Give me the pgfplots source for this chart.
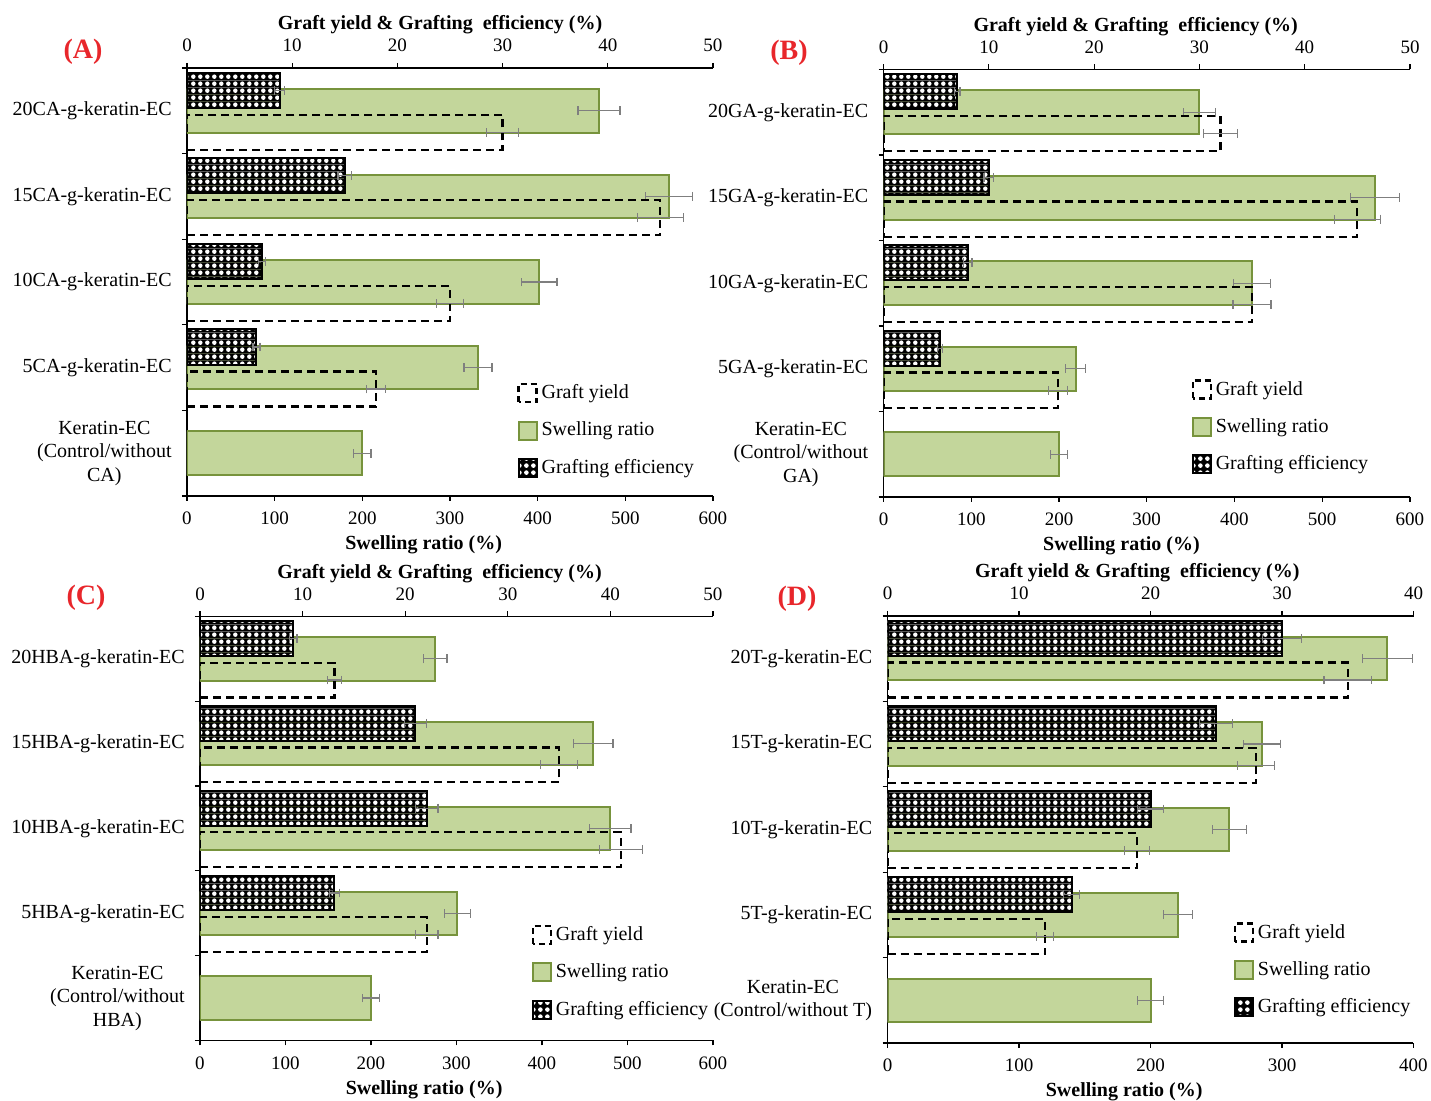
\documentclass[border=0pt]{standalone}
\usepackage{fontspec}
\setmainfont{Liberation Serif}
\usepackage{pgfplots}
\pgfplotsset{compat=1.18}
\usepackage{pgfplotstable}
\usetikzlibrary{patterns}

\definecolor{srfill}{HTML}{C3D69B}
\definecolor{srdraw}{HTML}{77933C}
\definecolor{errc}{HTML}{7F7F7F}
\definecolor{panelred}{HTML}{E8262B}

\pgfdeclarepatterninherentlycolored{gepat}{\pgfpointorigin}{\pgfpoint{3.4pt}{3.4pt}}{\pgfpoint{3.4pt}{3.4pt}}{%
  \pgfsetfillcolor{black}\pgfpathrectangle{\pgfpointorigin}{\pgfpoint{3.4pt}{3.4pt}}\pgfusepath{fill}%
  \pgfsetfillcolor{white}\pgfpathcircle{\pgfpoint{1.7pt}{1.7pt}}{1.15pt}\pgfusepath{fill}}

\pgfplotstableread{
pos SR SRe GY GYe GE GEe
0 200 10 nan nan nan nan
1 332 16 18.0 0.9 6.6 0.33
2 402 20 25.0 1.3 7.1 0.33
3 550 27 45.0 2.2 15.0 0.65
4 470 24 30.0 1.5 8.8 0.5
}\dataA
\pgfplotstableread{
pos SR SRe GY GYe GE GEe
0 200 10 nan nan nan nan
1 219 11.4 16.6 0.9 5.4 0.24
2 420 21 35.0 1.8 8.0 0.4
3 560 28 45.0 2.2 10.0 0.45
4 360 18 32.0 1.6 7.0 0.27
}\dataB
\pgfplotstableread{
pos SR SRe GY GYe GE GEe
0 200 10 nan nan nan nan
1 301 15 22.1 1.1 13.1 0.5
2 480 24 41.0 2.1 22.1 1.1
3 460 23 35.0 1.8 21.0 1.1
4 275 14 13.1 0.7 9.1 0.36
}\dataC
\pgfplotstableread{
pos SR SRe GY GYe GE GEe
0 200 9.6 nan nan nan nan
1 221 11 12.0 0.64 14.0 0.6
2 260 13 19.0 0.95 20.0 1.0
3 285 14 28.0 1.4 25.0 1.25
4 380 19 35.0 1.8 30.0 1.5
}\dataD

\pgfplotsset{
  panelbase/.style={scale only axis, ymin=-0.5, ymax=4.5,
    tick align=outside, major tick length=2.5pt, minor tick length=2.5pt,
    axis line style={-, black, line width=0.6pt},
    tick style={black, line width=0.6pt},
    ticklabel style={font=\fontsize{9.5}{11}\selectfont},
    xticklabel shift=2pt,
    /pgf/number format/assume math mode=true,
    label style={font=\bfseries\fontsize{10}{12}\selectfont}},
  bottomaxis/.style={panelbase, axis x line*=bottom, axis y line*=left,
    ytick={0,1,2,3,4}, minor ytick={-0.5,0.5,1.5,2.5,3.5,4.5},
    major y tick style={draw=none},
    yticklabel style={align=center, font=\fontsize{10}{11.75}\selectfont, inner sep=0pt, xshift=-5pt}},
  topaxis/.style={panelbase, axis x line*=top, hide y axis,
    legend image code/.code={\draw[##1] (0pt,-4.5pt) rectangle (9pt,4.5pt);},
    legend cell align=left},
  errplot/.style={forget plot, draw=none, mark=none,
    error bars/.cd, x dir=both, x explicit, error mark=|,
    error bar style={draw=errc, line width=0.6pt, solid},
    error mark options={draw=errc, line width=0.6pt, mark size=2.2pt, solid}},
  srbar/.style={xbar, bar width=0.51, bar shift=0, fill=srfill, draw=srdraw, line width=1pt, forget plot},
  gybar/.style={xbar, bar width=0.41, bar shift=-0.25, fill=none, draw=black, line width=1.1pt, dash pattern=on 4pt off 2.5pt, forget plot},
  gebar/.style={xbar, bar width=0.41, bar shift=0.24, pattern=gepat, draw=black, line width=1pt, forget plot},
}

\newcommand{\legimgs}{%
  \addlegendimage{draw=black, line width=1.1pt, dash pattern=on 3pt off 2pt, fill=none}
  \addlegendimage{draw=srdraw, line width=1pt, fill=srfill}
  \addlegendimage{draw=black, line width=1pt, pattern=gepat}
  \legend{Graft yield, Swelling ratio, Grafting efficiency}}

% error bars of swelling ratio (bottom axis) and of GY/GE (top axis)
\newcommand{\srerr}[1]{\addplot[errplot] table[x=SR, y=pos, x error=SRe] {#1};}
\newcommand{\topbars}[1]{%
  \addplot[gybar] table[x=GY, y=pos] {#1};
  \addplot[gebar] table[x=GE, y=pos] {#1};
  \addplot[errplot] table[x=GY, y expr=\thisrow{pos}-0.25, x error=GYe] {#1};
  \addplot[errplot] table[x=GE, y expr=\thisrow{pos}+0.24, x error=GEe] {#1};}

\begin{document}
\begin{tikzpicture}
\useasboundingbox (0,0) rectangle (715.5pt,550.5pt);

% ---------- Panel A ----------
\begin{axis}[bottomaxis, at={(93.5pt,302.5pt)}, anchor=south west, width=263pt, height=214pt,
  xmin=0, xmax=600, xtick={0,100,...,600},
  yticklabels={{Keratin-EC\\(Control/without\\CA)},5CA-g-keratin-EC,10CA-g-keratin-EC,15CA-g-keratin-EC,20CA-g-keratin-EC},
  xlabel={Swelling ratio (\%)}, xlabel style={at={(axis description cs:0.45,0)}, anchor=center, yshift=-24.5pt}]
\addplot[srbar] table[x=SR, y=pos] {\dataA};
\srerr{\dataA}
\end{axis}
\begin{axis}[topaxis, at={(93.5pt,302.5pt)}, anchor=south west, width=263pt, height=214pt,
  xmin=0, xmax=50, xtick={0,10,...,50},
  xlabel={Graft yield \& Grafting\ \ efficiency (\%)}, xlabel style={at={(axis description cs:0.481,1)}, anchor=center, yshift=21.5pt},
  legend style={at={(axis description cs:0.616,0.153)}, anchor=west, draw=none, fill=none, row sep=6.2pt, font=\fontsize{10}{12}\selectfont}]
\topbars{\dataA}
\legimgs
\end{axis}

% ---------- Panel B ----------
\begin{axis}[bottomaxis, at={(441.75pt,302pt)}, anchor=south west, width=263.25pt, height=213.75pt,
  xmin=0, xmax=600, xtick={0,100,...,600},
  yticklabels={{Keratin-EC\\(Control/without\\GA)},5GA-g-keratin-EC,10GA-g-keratin-EC,15GA-g-keratin-EC,20GA-g-keratin-EC},
  xlabel={Swelling ratio (\%)}, xlabel style={at={(axis description cs:0.452,0)}, anchor=center, yshift=-24.5pt}]
\addplot[srbar] table[x=SR, y=pos] {\dataB};
\srerr{\dataB}
\end{axis}
\begin{axis}[topaxis, at={(441.75pt,302pt)}, anchor=south west, width=263.25pt, height=213.75pt,
  xmin=0, xmax=50, xtick={0,10,...,50},
  xlabel={Graft yield \& Grafting\ \ efficiency (\%)}, xlabel style={at={(axis description cs:0.479,1)}, anchor=center, yshift=21.5pt},
  legend style={at={(axis description cs:0.573,0.164)}, anchor=west, draw=none, fill=none, row sep=6.2pt, font=\fontsize{10}{12}\selectfont}]
\topbars{\dataB}
\legimgs
\end{axis}

% ---------- Panel C ----------
\begin{axis}[bottomaxis, at={(100pt,30.25pt)}, anchor=south west, width=256.5pt, height=212pt,
  xmin=0, xmax=600, xtick={0,100,...,600},
  yticklabels={{Keratin-EC\\(Control/without\\HBA)},5HBA-g-keratin-EC,10HBA-g-keratin-EC,15HBA-g-keratin-EC,20HBA-g-keratin-EC},
  xlabel={Swelling ratio (\%)}, xlabel style={at={(axis description cs:0.437,0)}, anchor=center, yshift=-24.5pt}]
\addplot[srbar] table[x=SR, y=pos] {\dataC};
\srerr{\dataC}
\end{axis}
\begin{axis}[topaxis, at={(100pt,30.25pt)}, anchor=south west, width=256.5pt, height=212pt,
  xmin=0, xmax=50, xtick={0,10,...,50},
  xlabel={Graft yield \& Grafting\ \ efficiency (\%)}, xlabel style={at={(axis description cs:0.467,1)}, anchor=center, yshift=21.5pt},
  legend style={at={(axis description cs:0.634,0.161)}, anchor=west, draw=none, fill=none, row sep=6.2pt, font=\fontsize{10}{12}\selectfont}]
\topbars{\dataC}
\legimgs
\end{axis}

% ---------- Panel D ----------
\begin{axis}[bottomaxis, at={(443.75pt,29pt)}, anchor=south west, width=263pt, height=213.5pt,
  xmin=0, xmax=400, xtick={0,100,...,400},
  yticklabels={{Keratin-EC\\(Control/without T)},5T-g-keratin-EC,10T-g-keratin-EC,15T-g-keratin-EC,20T-g-keratin-EC},
  xlabel={Swelling ratio (\%)}, xlabel style={at={(axis description cs:0.45,0)}, anchor=center, yshift=-24.5pt}]
\addplot[srbar] table[x=SR, y=pos] {\dataD};
\srerr{\dataD}
\end{axis}
\begin{axis}[topaxis, at={(443.75pt,29pt)}, anchor=south west, width=263pt, height=213.5pt,
  xmin=0, xmax=40, xtick={0,10,...,40},
  xlabel={Graft yield \& Grafting\ \ efficiency (\%)}, xlabel style={at={(axis description cs:0.475,1)}, anchor=center, yshift=21.5pt},
  legend style={at={(axis description cs:0.646,0.171)}, anchor=west, draw=none, fill=none, row sep=6.2pt, font=\fontsize{10}{12}\selectfont}]
\topbars{\dataD}
\legimgs
\end{axis}

% panel letters
\node[text=panelred, font=\bfseries\fontsize{14}{16}\selectfont] at (41.5pt,524.5pt) {(A)};
\node[text=panelred, font=\bfseries\fontsize{14}{16}\selectfont] at (394.5pt,524pt) {(B)};
\node[text=panelred, font=\bfseries\fontsize{14}{16}\selectfont] at (43pt,251.5pt) {(C)};
\node[text=panelred, font=\bfseries\fontsize{14}{16}\selectfont] at (398.5pt,251pt) {(D)};
\end{tikzpicture}
\end{document}
